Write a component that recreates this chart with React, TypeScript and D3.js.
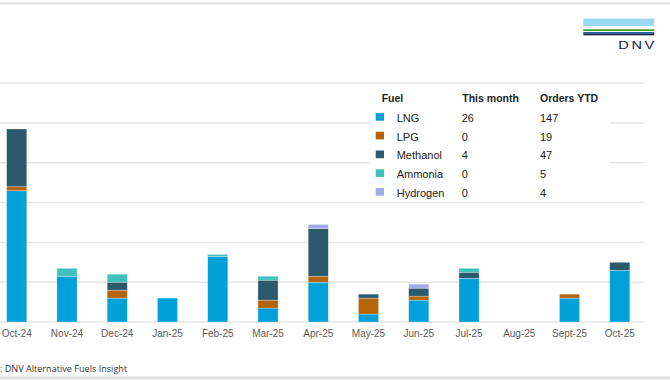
import React from "react";
import * as d3 from "d3";

const months = ["Oct-24","Nov-24","Dec-24","Jan-25","Feb-25","Mar-25","Apr-25","May-25","Jun-25","Jul-25","Aug-25","Sept-25","Oct-25"];
const lng = [66,23,12,12,33,7,20,4,11,22,0,12,26];
const lpg = [2,0,4,0,0,4,3,8,2,0,0,2,0];
const methanol = [29,0,4,0,0,10,24,2,4,3,0,0,4];
const ammonia = [0,4,4,0,1,2,0,0,0,2,0,0,0];
const hydrogen = [0,0,0,0,0,0,2,0,2,0,0,0,0];

const fuels = ["LNG","LPG","Methanol","Ammonia","Hydrogen"];
const fuelColors = ["#02a0d8","#b5640a","#2b5a6c","#3ec3bc","#a4a9e8"];
const thisMonth = [26,0,4,0,0];
const ordersYTD = [147,19,47,5,4];
const yTicks = [0,20,40,60,80,100,120];

export default function App() {
  const W = 670, H = 380;
  const x = d3.scaleBand<string>().domain(months).range([-8.4, 644.9]).paddingInner(0.6).paddingOuter(0.3);
  const y = d3.scaleLinear().domain([0, 120]).range([322, 83.2]);

  const table = months.map((m, i) => ({
    month: m, LNG: lng[i], LPG: lpg[i], Methanol: methanol[i], Ammonia: ammonia[i], Hydrogen: hydrogen[i],
  }));
  const stack = d3.stack<any>().keys(fuels)(table);

  const legX = 375.7, legTop = 118, rowH = 18.75;

  return (
    <svg width={W} height={H} style={{ position: "fixed", left: 0, top: 0, background: "#fff" }}>
      <rect x={0} y={0} width={W} height={H} fill="#fff" />
      {/* top and bottom borders */}
      <rect x={0} y={2.3} width={W} height={2.2} fill="#e3e3e3" />
      <rect x={0} y={376.5} width={W} height={3} fill="#e0e0e0" />

      {/* gridlines */}
      {yTicks.map((t) => (
        <line key={t} x1={0} x2={644.5} y1={y(t)} y2={y(t)} stroke="#e6e6e6" strokeWidth={1.5} />
      ))}

      {/* bars */}
      {stack.map((layer, li) => (
        <g key={fuels[li]} fill={fuelColors[li]}>
          {layer.map((d, i) =>
            d[1] - d[0] > 0 ? (
              <rect
                key={i}
                x={x(months[i])!}
                y={y(d[1])}
                width={x.bandwidth()}
                height={y(d[0]) - y(d[1])}
                stroke="rgba(255,255,255,0.45)"
                strokeWidth={0.6}
              />
            ) : null
          )}
        </g>
      ))}

      {/* x axis labels */}
      {months.map((m) => (
        <text
          key={m}
          x={x(m)! + x.bandwidth() / 2}
          y={336.8}
          textAnchor="middle"
          fontFamily="Liberation Sans, Arial, sans-serif"
          fontSize={10}
          fill="#5a5a5a"
        >
          {m}
        </text>
      ))}

      {/* legend table */}
      <rect x={370} y={86} width={240} height={113} fill="#fff" />
      <g fontFamily="Liberation Sans, Arial, sans-serif" fill="#222">
        <text x={381.7} y={102} fontSize={10.5} fontWeight="bold">Fuel</text>
        <text x={462.3} y={102} fontSize={10.5} fontWeight="bold">This month</text>
        <text x={540} y={102} fontSize={10.5} fontWeight="bold">Orders YTD</text>
        {fuels.map((f, i) => (
          <g key={f}>
            <rect x={legX} y={legTop + i * rowH - 5} width={8.3} height={7.7} fill={fuelColors[i]} />
            <text x={396.7} y={legTop + i * rowH + 3.9} fontSize={11}>{f}</text>
            <text x={461.7} y={legTop + i * rowH + 3.9} fontSize={11}>{thisMonth[i]}</text>
            <text x={540} y={legTop + i * rowH + 3.9} fontSize={11}>{ordersYTD[i]}</text>
          </g>
        ))}
      </g>

      {/* DNV logo */}
      <rect x={583.3} y={18.7} width={71} height={7.3} fill="#99d8f1" />
      <rect x={583.3} y={29.3} width={71} height={1.7} fill="#3f9c35" />
      <rect x={583.3} y={32} width={71} height={1.5} fill="#1b5fa9" />
      <rect x={583.3} y={33.5} width={71} height={1.8} fill="#0f204b" />
      <g transform="translate(618.3,48.7) scale(1.35,1)">
        <text x={0} y={0} fontSize={10.8} fill="#0f204b" fontFamily="Liberation Sans, Arial, sans-serif" textLength={26.7} lengthAdjust="spacing">DNV</text>
      </g>

      {/* source */}
      <text x={0} y={372} fontSize={9.1} fill="#333" fontFamily="Open Sans, sans-serif">: DNV Alternative Fuels Insight</text>
    </svg>
  );
}
